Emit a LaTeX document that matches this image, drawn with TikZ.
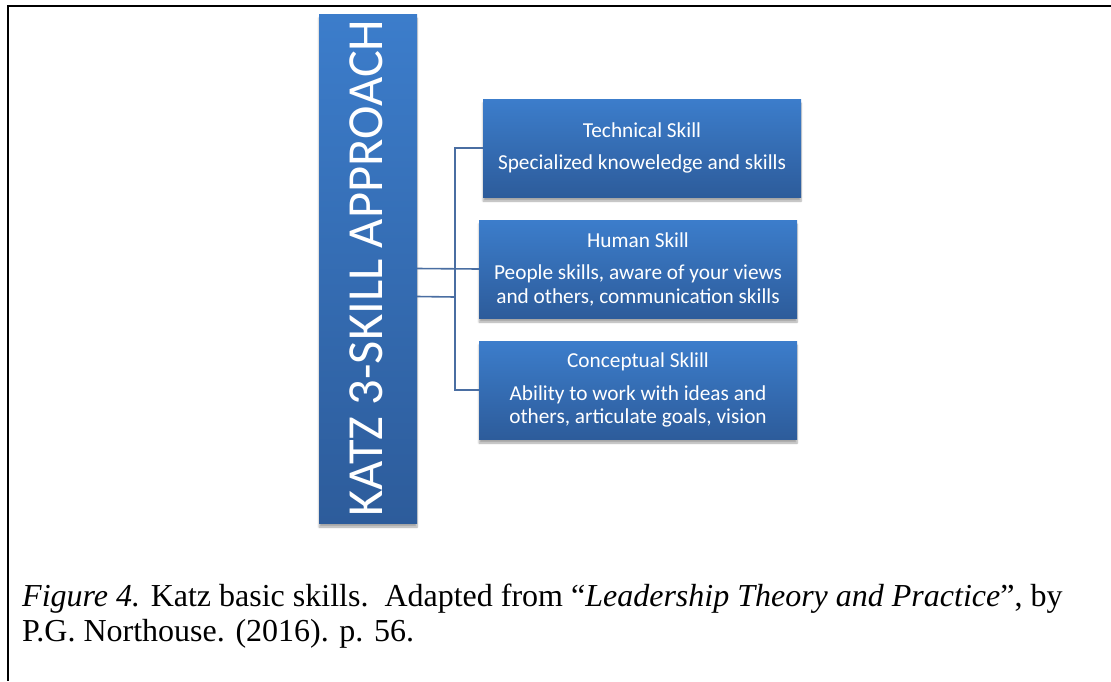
\documentclass[tikz,border=0pt]{standalone}
\usepackage{fontspec}
\setmainfont{Liberation Serif}
\newfontfamily\boxfont{Carlito}
\usetikzlibrary{shadows.blur}

\definecolor{skilltop}{RGB}{60,125,203}
\definecolor{skillbottom}{RGB}{45,92,155}
\definecolor{skillline}{RGB}{74,110,162}

\tikzset{
  skillbox/.style={rectangle, inner sep=0pt, top color=skilltop, bottom color=skillbottom,
    text=white, align=center, minimum width=318pt, minimum height=98pt,
    font=\boxfont\fontsize{21.3}{23.5}\selectfont,
    blur shadow={shadow xshift=0pt, shadow yshift=-4pt, shadow blur steps=6, shadow opacity=35}},
  bar/.style={rectangle, inner sep=0pt, top color=skilltop, bottom color=skillbottom,
    minimum width=98pt, minimum height=509pt,
    blur shadow={shadow xshift=0pt, shadow yshift=-4pt, shadow blur steps=6, shadow opacity=35}},
  link/.style={draw=skillline, line width=1.6pt}
}

\begin{document}
\begin{tikzpicture}[x=1pt,y=-1pt]
  \useasboundingbox (0,0) rectangle (1111,681);
  % page frame
  \draw[line width=2.2pt] (1111,6) -- (8,6) -- (8,681);

  % left column
  \node[bar] (katz) at (368,268.5) {};
  \node[rotate=90, text=white, font=\boxfont\fontsize{50.5}{50.5}\selectfont] (katzlabel) at (366,268) {KATZ 3-SKILL APPROACH};

  % the three skills
  \node[skillbox] (tech) at (642,148) {Technical Skill\\[9pt]Specialized knoweledge and skills};
  \node[skillbox] (human) at (638,269) {Human Skill\\[9pt]People skills, aware of your views\\and others, communication skills};
  \node[skillbox] (concept) at (638,390) {Conceptual Sklill\\[9pt]Ability to work with ideas and\\others, articulate goals, vision};

  % connectors
  \coordinate (joint) at (455,297);
  \draw[link] (katz.east) -- (human.west);
  \draw[link] ([yshift=-28pt]katz.east) -- (joint);
  \draw[link] (tech.west) -- ++(-28,0) |- (concept.west);

  % caption (base anchor sits on the last line)
  \node[anchor=base west, align=left, inner sep=0pt, font=\fontsize{32}{35}\selectfont] (caption) at (22,641)
    {\textit{Figure 4.} Katz basic skills.\ \ Adapted from ``\textit{Leadership Theory and Practice}'', by\\P.G. Northouse. (2016). p. 56.};
\end{tikzpicture}
\end{document}
